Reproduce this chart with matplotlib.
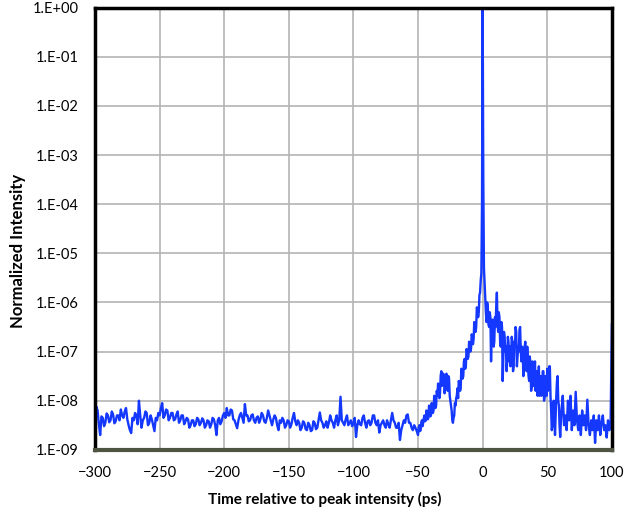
import matplotlib
matplotlib.use('Agg')
import matplotlib.pyplot as plt
import numpy as np

# baseline before the pulse, -300 .. -51 ps every 1 ps (log10 of normalized intensity)
t_base = np.arange(-300, -50, 1)
log_base = [-8.55, -8.12, -8.20, -8.48, -8.70, -8.32, -8.35, -8.52, -8.45, -8.26,
            -8.30, -8.44, -8.40, -8.22, -8.28, -8.46, -8.42, -8.30, -8.30, -8.40,
            -8.18, -8.30, -8.35, -8.22, -8.15, -8.38, -8.50, -8.60, -8.66, -8.35,
            -8.40, -8.25, -8.30, -8.48, -8.00, -8.30, -8.55, -8.40, -8.35, -8.22,
            -8.25, -8.50, -8.45, -8.30, -8.38, -8.50, -8.62, -8.35, -8.40, -8.25,
            -8.30, -8.15, -8.05, -8.35, -8.30, -8.18, -8.20, -8.40, -8.35, -8.25,
            -8.25, -8.40, -8.38, -8.28, -8.22, -8.45, -8.40, -8.30, -8.30, -8.48,
            -8.42, -8.35, -8.38, -8.55, -8.50, -8.40, -8.40, -8.52, -8.48, -8.35,
            -8.38, -8.50, -8.45, -8.36, -8.40, -8.55, -8.50, -8.40, -8.42, -8.55,
            -8.48, -8.35, -8.38, -8.50, -8.70, -8.40, -8.35, -8.48, -8.42, -8.30,
            -8.25, -8.35, -8.15, -8.30, -8.30, -8.18, -8.20, -8.38, -8.40, -8.48,
            -8.56, -8.40, -8.30, -8.25, -8.35, -8.45, -8.07, -8.30, -8.30, -8.42,
            -8.40, -8.30, -8.28, -8.40, -8.45, -8.35, -8.32, -8.45, -8.38, -8.25,
            -8.30, -8.42, -8.45, -8.35, -8.20, -8.30, -8.40, -8.50, -8.38, -8.30,
            -8.35, -8.50, -8.60, -8.40, -8.45, -8.35, -8.40, -8.55, -8.50, -8.40,
            -8.42, -8.55, -8.48, -8.35, -8.25, -8.42, -8.50, -8.40, -8.45, -8.60,
            -8.55, -8.42, -8.45, -8.58, -8.60, -8.45, -8.50, -8.62, -8.60, -8.42,
            -8.45, -8.58, -8.55, -8.40, -8.24, -8.40, -8.45, -8.55, -8.50, -8.42,
            -8.55, -8.45, -8.30, -8.40, -8.45, -8.55, -8.40, -8.30, -8.50, -8.40,
            -7.92, -8.40, -8.45, -8.50, -8.38, -8.30, -8.50, -8.45, -8.40, -8.52,
            -8.45, -8.35, -8.74, -8.50, -8.40, -8.48, -8.50, -8.35, -8.30, -8.45,
            -8.55, -8.42, -8.40, -8.50, -8.45, -8.30, -8.30, -8.45, -8.50, -8.40,
            -8.65, -8.50, -8.45, -8.40, -8.50, -8.55, -8.40, -8.48, -8.55, -8.40,
            -8.25, -8.40, -8.45, -8.55, -8.55, -8.45, -8.80, -8.60, -8.50, -8.40,
            -8.45, -8.30, -8.28, -8.45, -8.45, -8.55, -8.60, -8.50, -8.55, -8.62]

# rising edge, -50 .. -0.5 ps every 0.5 ps
t_rise = np.arange(-50, 0, 0.5)
log_rise = [-8.70, -8.55, -8.50, -8.62, -8.60, -8.45, -8.40, -8.52, -8.45, -8.35,
            -8.30, -8.42, -8.40, -8.20, -8.25, -8.38, -8.35, -8.10, -8.15, -8.32,
            -8.30, -8.05, -8.10, -8.25, -8.20, -7.90, -7.95, -8.15, -8.10, -7.80,
            -7.90, -7.65, -7.75, -7.95, -7.85, -7.50, -7.40, -7.70, -7.60, -7.45,
            -7.50, -7.85, -7.75, -7.50, -7.45, -7.70, -7.80, -7.50, -7.55, -7.90,
            -8.00, -8.10, -8.20, -8.40, -8.45, -8.35, -8.30, -8.05, -8.10, -7.95,
            -7.90, -7.75, -7.95, -7.60, -7.65, -7.80, -7.75, -7.35, -7.40, -7.55,
            -7.50, -7.20, -7.15, -7.35, -7.30, -6.95, -7.00, -7.15, -7.10, -6.80,
            -6.85, -7.00, -6.95, -6.65, -6.70, -6.85, -6.75, -6.40, -6.45, -6.60,
            -6.50, -6.10, -6.15, -6.30, -6.20, -5.85, -5.80, -5.55, -5.40, -4.00]

# main peak
t_peak = [0.0]
log_peak = [0.0]

# trailing edge, 0.5 .. 60 ps every 0.5 ps
t_fall = np.arange(0.5, 60.5, 0.5)
log_fall = [-3.50, -5.30, -5.60, -5.90, -6.20, -6.40, -6.00, -6.10, -6.45, -6.50,
            -6.20, -6.30, -7.20, -6.60, -6.35, -6.40, -6.90, -6.80, -6.30, -6.50,
            -6.10, -5.80, -6.40, -6.60, -6.20, -6.30, -6.80, -6.90, -6.40, -6.50,
            -7.60, -7.10, -6.60, -6.70, -7.00, -6.90, -7.40, -7.20, -6.70, -6.80,
            -7.20, -6.90, -7.30, -7.10, -6.70, -6.80, -7.40, -7.30, -6.80, -6.90,
            -6.50, -6.60, -7.30, -7.10, -6.90, -7.00, -6.55, -6.50, -7.00, -7.20,
            -6.90, -7.00, -7.50, -7.30, -6.90, -6.80, -7.30, -7.40, -6.90, -7.20,
            -7.50, -7.60, -7.10, -7.30, -7.80, -7.70, -7.20, -7.40, -7.70, -7.50,
            -7.20, -7.80, -7.60, -7.40, -7.90, -7.60, -7.30, -7.90, -7.70, -7.50,
            -7.90, -7.70, -7.40, -7.40, -8.00, -7.90, -7.50, -7.60, -7.90, -7.35,
            -7.80, -7.70, -7.30, -7.30, -7.90, -8.20, -8.60, -8.50, -8.10, -8.00,
            -8.40, -8.70, -8.30, -7.90, -7.60, -7.50, -8.00, -8.10, -8.50, -8.74]

# tail, 61 .. 100 ps every 1 ps
t_tail = np.arange(61, 101, 1)
log_tail = [-8.20, -7.90, -8.50, -8.30, -8.60, -8.00, -8.40, -7.90, -8.60, -8.20,
            -8.50, -7.82, -8.40, -8.60, -8.30, -8.70, -8.20, -8.50, -8.30, -8.60,
            -7.98, -8.50, -8.70, -8.40, -8.60, -8.30, -8.86, -8.40, -8.60, -8.30,
            -8.70, -8.45, -8.30, -8.60, -8.50, -8.75, -8.40, -8.60, -8.50, -6.45]

ytick_vals = [1e-9, 1e-8, 1e-7, 1e-6, 1e-5, 1e-4, 1e-3, 1e-2, 1e-1, 1e0]
ytick_labels = ['1.E-09', '1.E-08', '1.E-07', '1.E-06', '1.E-05',
                '1.E-04', '1.E-03', '1.E-02', '1.E-01', '1.E+00']
xtick_vals = [-300, -250, -200, -150, -100, -50, 0, 50, 100]

t = np.concatenate([t_base, t_rise, t_peak, t_fall, t_tail])
intensity = 10.0 ** np.concatenate([log_base, log_rise, log_peak, log_fall, log_tail])

plt.rcParams['font.family'] = ['Lato', 'DejaVu Sans']

fig = plt.figure(figsize=(6.25, 5.17), dpi=100)
ax = fig.add_axes([0.152, 0.130, 0.827, 0.855])

ax.plot(t, intensity, color='#1538ff', lw=1.7)

ax.set_yscale('log')
ax.set_xlim(-300, 100)
ax.set_ylim(1e-9, 1)
ax.set_yticks(ytick_vals)
ax.set_yticklabels(ytick_labels)
ax.minorticks_off()
ax.set_xticks(xtick_vals)
ax.grid(True, color='#b4b4b4', lw=1.2)
ax.set_axisbelow(True)
ax.tick_params(length=0, labelsize=10.5, pad=12)

for side in ['left', 'top', 'right']:
    ax.spines[side].set_color('black')
    ax.spines[side].set_linewidth(2.5)
ax.spines['bottom'].set_color('#4e5342')
ax.spines['bottom'].set_linewidth(3)

fig.text(0.52, 0.033, 'Time relative to peak intensity (ps)', fontsize=11,
         fontweight='bold', ha='center', va='center')
fig.text(0.029, 0.514, 'Normalized Intensity', fontsize=12, fontweight='bold',
         rotation=90, ha='center', va='center')

fig.savefig('out.png', dpi=100)
